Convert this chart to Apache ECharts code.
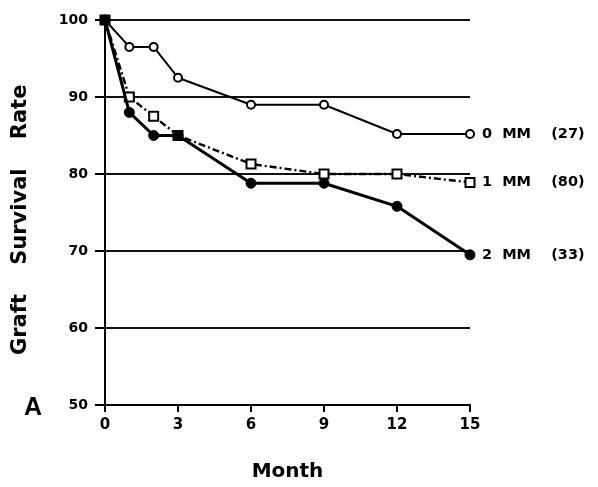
<!DOCTYPE html>
<html>
<head>
<meta charset="utf-8">
<script src="https://cdn.jsdelivr.net/npm/echarts@6/dist/echarts.min.js"></script>
<style>
html,body{margin:0;padding:0;background:#fff;}
#chart{width:598px;height:487px;}
</style>
</head>
<body>
<div id="chart"></div>
<script>
const months = [0, 1, 2, 3, 6, 9, 12, 15];
const mm0 = [100, 96.5, 96.5, 92.5, 89, 89, 85.2, 85.2];
const mm1 = [100, 90, 87.5, 85, 81.3, 80, 80, 78.9];
const mm2 = [100, 88, 85, 85, 78.8, 78.8, 75.8, 69.5];
const seriesLabels = ['0  MM    (27)', '1  MM    (80)', '2  MM    (33)'];
const xTicks = [0, 3, 6, 9, 12, 15];
const yTicks = [50, 60, 70, 80, 90, 100];

const pairs = vals => months.map((m, i) => [m, vals[i]]);
const endLbl = txt => ({
  show: true, formatter: txt, distance: 12,
  fontFamily: 'DejaVu Sans', fontWeight: 'bold', fontSize: 14.5, color: '#000'
});

const chart = echarts.init(document.getElementById('chart'), null, {renderer: 'canvas'});
chart.setOption({
  backgroundColor: '#fff',
  animation: false,
  grid: {left: 105, right: 128, top: 20, bottom: 80},
  xAxis: {
    type: 'value', min: 0, max: 15, interval: 3,
    name: 'Month', nameLocation: 'middle', nameGap: 57,
    nameTextStyle: {fontFamily: 'DejaVu Sans', fontWeight: 'bold', fontSize: 20, color: '#000'},
    axisLine: {lineStyle: {color: '#000', width: 2}},
    axisTick: {show: true, length: 7, lineStyle: {color: '#000', width: 2}},
    axisLabel: {margin: 13, color: '#000', fontFamily: 'DejaVu Sans', fontWeight: 'bold', fontSize: 15,
      formatter: v => xTicks.includes(v) ? String(v) : ''},
    splitLine: {show: false}
  },
  yAxis: {
    type: 'value', min: 50, max: 100, interval: 10,
    name: 'Graft    Survival    Rate\u00a0\u00a0', nameLocation: 'middle', nameGap: 74, nameRotate: 90,
    nameTextStyle: {fontFamily: 'DejaVu Sans', fontWeight: 'bold', fontSize: 21, color: '#000'},
    axisLine: {show: true, lineStyle: {color: '#000', width: 2}},
    axisTick: {show: true, length: 10, lineStyle: {color: '#000', width: 2}},
    axisLabel: {margin: 17, color: '#000', fontFamily: 'DejaVu Sans', fontWeight: 'bold', fontSize: 14,
      formatter: v => yTicks.includes(v) ? String(v) : ''},
    splitLine: {show: true, lineStyle: {color: '#111', width: 2}}
  },
  graphic: [{
    type: 'text', left: 24, top: 396,
    style: {text: 'A', fontFamily: 'Liberation Sans', fontWeight: 'bold', fontSize: 25, fill: '#000'}
  }],
  series: [
    {
      name: '0 MM', type: 'line', data: pairs(mm0),
      symbol: 'circle', symbolSize: 8, showAllSymbol: true,
      itemStyle: {color: '#fff', borderColor: '#000', borderWidth: 2},
      lineStyle: {color: '#000', width: 2, type: 'solid'},
      endLabel: endLbl(seriesLabels[0]), z: 3
    },
    {
      name: '1 MM', type: 'line', data: pairs(mm1),
      symbol: 'rect', symbolSize: 9, showAllSymbol: true,
      itemStyle: {color: '#fff', borderColor: '#000', borderWidth: 2},
      lineStyle: {color: '#000', width: 2.4, type: [7, 3, 2, 3]},
      endLabel: endLbl(seriesLabels[1]), z: 4
    },
    {
      name: '2 MM', type: 'line', data: pairs(mm2),
      symbol: 'circle', symbolSize: 10, showAllSymbol: true,
      itemStyle: {color: '#000', borderColor: '#000', borderWidth: 1},
      lineStyle: {color: '#000', width: 3, type: 'solid'},
      endLabel: endLbl(seriesLabels[2]), z: 5
    }
  ]
});
</script>
</body>
</html>
